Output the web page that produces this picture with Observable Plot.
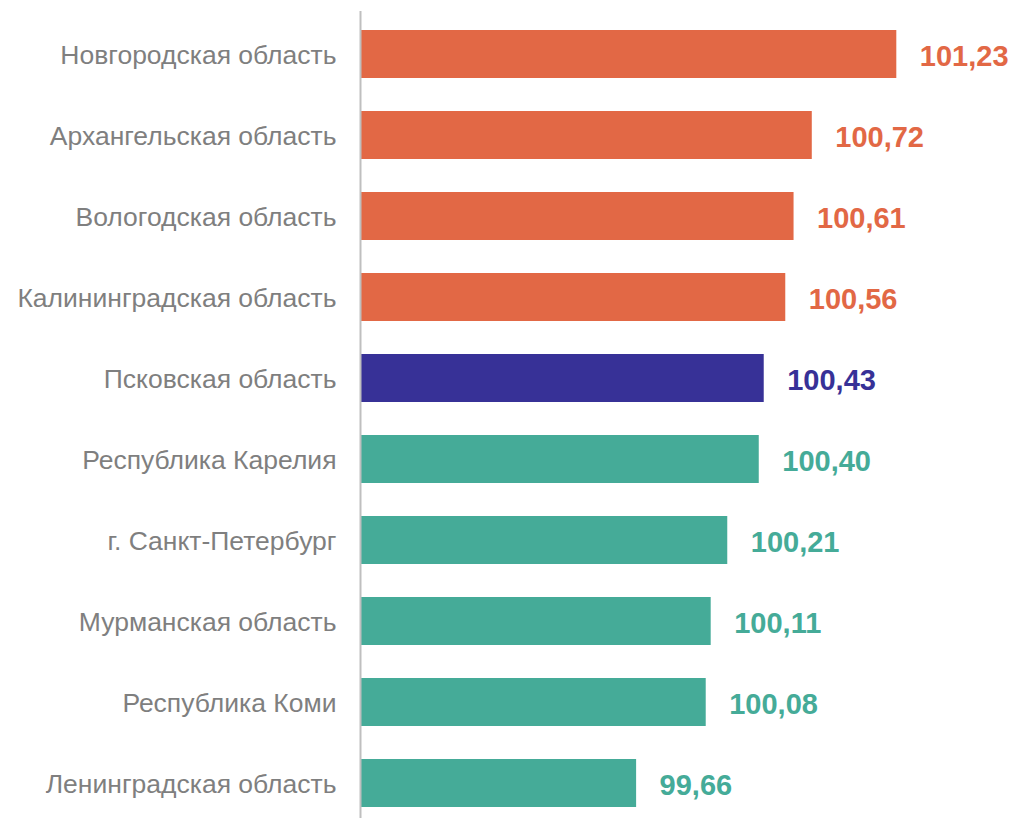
<!DOCTYPE html>
<html>
<head>
<meta charset="utf-8">
<script src="https://cdn.jsdelivr.net/npm/d3@7"></script>
<script src="https://cdn.jsdelivr.net/npm/@observablehq/plot@0.6"></script>
<style>
  html, body { margin: 0; padding: 0; background: #fff; }
  #chart svg { display: block; }
</style>
</head>
<body>
<div id="chart"></div>
<script>
const regions = [
  "Новгородская область",
  "Архангельская область",
  "Вологодская область",
  "Калининградская область",
  "Псковская область",
  "Республика Карелия",
  "г. Санкт-Петербург",
  "Мурманская область",
  "Республика Коми",
  "Ленинградская область"
];
const values = [101.23, 100.72, 100.61, 100.56, 100.43, 100.40, 100.21, 100.11, 100.08, 99.66];
const groups = ["high", "high", "high", "high", "pskov", "low", "low", "low", "low", "low"];
const valueLabels = ["101,23", "100,72", "100,61", "100,56", "100,43", "100,40", "100,21", "100,11", "100,08", "99,66"];

const groupDomain = ["high", "pskov", "low"];
const groupColors = ["#E26845", "#373197", "#45AB98"];

const data = regions.map((r, i) => ({region: r, value: values[i], group: groups[i], label: valueLabels[i]}));
const base = 98;

const chart = Plot.plot({
  width: 1020,
  height: 818,
  marginLeft: 361,
  marginRight: 11,
  marginTop: 27,
  marginBottom: 9,
  x: {domain: [base, 101.91], axis: null},
  y: {domain: regions, paddingInner: 0.41, paddingOuter: 0, axis: null},
  color: {domain: groupDomain, range: groupColors},
  style: {fontFamily: "'Liberation Sans', Arial, sans-serif", background: "#fff"},
  marks: [
    Plot.barX(data, {x1: base, x2: "value", y: "region", fill: "group"}),
    Plot.ruleX([base], {stroke: "#BFBFBF", strokeWidth: 2, dx: -1, insetTop: -16, insetBottom: -12}),
    Plot.text(data, {x: base, y: "region", text: "region", textAnchor: "end", dx: -25, dy: 1, fill: "#7F7F7F", fontSize: 26.5}),
    Plot.text(data, {x: "value", y: "region", text: "label", textAnchor: "start", dx: 23, dy: 2, fill: "group", fontSize: 29, fontWeight: "bold"})
  ]
});
document.getElementById("chart").appendChild(chart);
</script>
</body>
</html>
